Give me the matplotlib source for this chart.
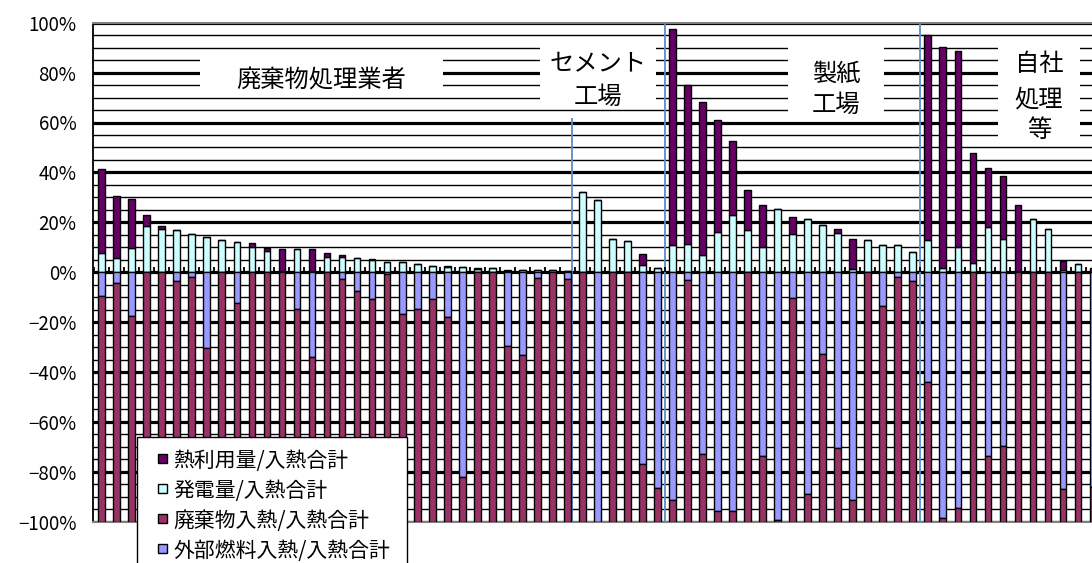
import matplotlib
matplotlib.use("Agg")
import matplotlib.pyplot as plt
from matplotlib.patches import Rectangle
from matplotlib.ticker import MultipleLocator, FuncFormatter
import numpy as np

plt.rcParams['font.family'] = ['Noto Sans CJK JP', 'DejaVu Sans']

# values (% of total heat input), one entry per plant
power = [7.5, 5.7, 9.5, 18.5, 17.2, 16.8, 15.5, 14.1, 12.8, 12.1,
         10.1, 8.5, 0.5, 9.1, 0.5, 6.1, 5.9, 5.7, 4.9, 4.1,
         3.9, 3.1, 2.5, 2.0, 1.9, 1.2, 1.5, 0.3, 0.8, 0.8,
         0.8, 0.3, 32.1, 28.8, 13.5, 12.4, 2.8, 1.7, 10.8, 11.5,
         6.8, 16.1, 22.8, 17.1, 10.1, 25.5, 15.5, 21.5, 18.8, 15.9,
         1.2, 12.8, 10.8, 10.8, 8.1, 12.8, 1.5, 10.1, 3.5, 18.1,
         13.5, 0.5, 21.5, 17.5, 0.8, 3.1, 0.0]
heat = [34.0, 24.8, 20.0, 4.5, 1.3, 0.0, 0.0, 0.0, 0.0, 0.0,
        1.6, 1.0, 8.6, 0.0, 8.6, 1.6, 0.9, 0.0, 0.3, 0.0,
        0.0, 0.0, 0.0, 0.5, 0.0, 0.3, 0.0, 0.5, 0.0, 0.0,
        0.0, 0.3, 0.0, 0.0, 0.0, 0.0, 4.3, 0.0, 86.7, 63.5,
        61.6, 45.1, 29.6, 15.7, 16.7, 0.0, 6.6, 0.0, 0.0, 1.6,
        12.3, 0.0, 0.0, 0.0, 0.0, 82.4, 88.6, 78.4, 44.4, 23.8,
        25.0, 26.3, 0.0, 0.0, 3.6, 0.0, 1.5]
ext_fuel = [9.6, 4.3, 17.6, 0.0, 0.0, 3.5, 2.1, 30.5, 0.0, 12.3,
            0.0, 0.0, 0.0, 14.9, 34.1, 0.0, 2.9, 7.6, 10.9, 0.8,
            16.8, 14.8, 10.9, 18.1, 82.1, 0.0, 0.0, 29.5, 33.2, 2.5,
            0.0, 2.9, 0.0, 100.0, 0.0, 0.0, 76.8, 86.5, 91.2, 3.2,
            72.9, 95.9, 95.9, 0.0, 73.6, 99.2, 10.3, 88.8, 32.8, 70.3,
            91.2, 0.0, 13.5, 2.1, 3.5, 43.9, 98.5, 94.5, 0.0, 73.6,
            69.5, 0.0, 0.0, 0.0, 86.8, 0.0, 86.1]
waste = [90.4, 95.7, 82.4, 100.0, 100.0, 96.5, 97.9, 69.5, 100.0, 87.7,
         100.0, 100.0, 100.0, 85.1, 65.9, 100.0, 97.1, 92.4, 89.1, 99.2,
         83.2, 85.2, 89.1, 81.9, 17.9, 100.0, 100.0, 70.5, 66.8, 97.5,
         100.0, 97.1, 100.0, 0.0, 100.0, 100.0, 23.2, 13.5, 8.8, 96.8,
         27.1, 4.1, 4.1, 100.0, 26.4, 0.8, 89.7, 11.2, 67.2, 29.7,
         8.8, 100.0, 86.5, 97.9, 96.5, 56.1, 1.5, 5.5, 100.0, 26.4,
         30.5, 100.0, 100.0, 100.0, 13.2, 100.0, 13.9]

series_labels = ['熱利用量/入熱合計', '発電量/入熱合計',
                 '廃棄物入熱/入熱合計', '外部燃料入熱/入熱合計']
series_colors = ['#660066', '#CCFFFF', '#993366', '#9999FF']

# group captions: (lines of text, y of each line, x-range in plant index, y-range in %)
groups = [(['廃棄物処理業者'], [77.0], (6.55, 22.7), (71.5, 88.0)),
          (['セメント', '工場'], [83.6, 70.3], (29.2, 36.9), (66.5, 93.0)),
          (['製紙', '工場'], [79.8, 67.0], (45.7, 52.1), (62.5, 93.0)),
          (['自社', '処理', '等'], [83.4, 69.4, 57.0], (59.7, 65.1), (52.5, 93.0))]
group_lines = [(31.3, 62), (37.5, 100), (54.5, 100)]

W, H = 1092, 563
fig = plt.figure(figsize=(W / 100, H / 100), dpi=100)
ax = fig.add_axes([93 / W, 1 - 521.7 / H, (1115.6 - 93) / W, 499 / H])

x = np.arange(len(power))
power = np.array(power)
heat = np.array(heat)
ext_fuel = np.array(ext_fuel)
waste = np.array(waste)

bw = 0.45
kw = dict(width=bw, edgecolor='black', linewidth=1, zorder=3)
ax.bar(x, power, color=series_colors[1], **kw)
ax.bar(x, heat, bottom=power, color=series_colors[0], **kw)
ax.bar(x, -ext_fuel, color=series_colors[3], **kw)
ax.bar(x, -waste, bottom=-ext_fuel, color=series_colors[2], **kw)

# small category ticks on the zero line
ax.vlines(np.arange(-1, len(power) + 1) + 0.5, 0, 2.2, color='black',
          lw=1.3, zorder=2.5)

ax.set_xlim(-0.58, 67.5)
ax.set_ylim(-100, 100)
ax.yaxis.set_major_locator(MultipleLocator(20))
ax.yaxis.set_minor_locator(MultipleLocator(5))
ax.yaxis.set_major_formatter(
    FuncFormatter(lambda v, p: f'{v:.0f}%'.replace('-', '\u2212')))
ax.set_xticks([])
ax.tick_params(axis='y', which='both', length=0, pad=12, labelsize=13.5)
ax.set_axisbelow(True)
ax.grid(which='major', axis='y', color='black', lw=2.3)
ax.grid(which='minor', axis='y', color='black', lw=1.0)

ax.spines['left'].set_color('black')
ax.spines['left'].set_linewidth(1.3)
for s in ['top', 'bottom']:
    ax.spines[s].set_color('#808080')
    ax.spines[s].set_linewidth(1.5)

# white caption boxes over the grid
for lines, ys, (x0, x1), (y0, y1) in groups:
    ax.add_patch(Rectangle((x0, y0), x1 - x0, y1 - y0, facecolor='white',
                           edgecolor='none', zorder=1.5))
    for t, yy in zip(lines, ys):
        ax.text((x0 + x1) / 2, yy, t, ha='center', va='center',
                fontsize=17.5, zorder=4)

for gx, top in group_lines:
    ax.vlines(gx, -100, top, color='#5B8BC9', lw=1.3, zorder=2)

# legend box (drawn in figure pixels, cut by the lower edge)
fig.add_artist(Rectangle((137 / W, 1 - 640 / H), 270 / W, 203 / H,
                         transform=fig.transFigure, facecolor='white',
                         edgecolor='black', lw=1, zorder=10))
for k, (lab, col) in enumerate(zip(series_labels, series_colors)):
    yc = 461 + 30 * k
    fig.add_artist(Rectangle((158 / W, 1 - (yc + 2) / H), 9 / W, 9 / H,
                             transform=fig.transFigure, facecolor=col,
                             edgecolor='black', lw=1, zorder=11))
    fig.text(173 / W, 1 - yc / H, lab, ha='left', va='center',
             fontsize=15, zorder=12)

plt.savefig('out.png', dpi=100)
